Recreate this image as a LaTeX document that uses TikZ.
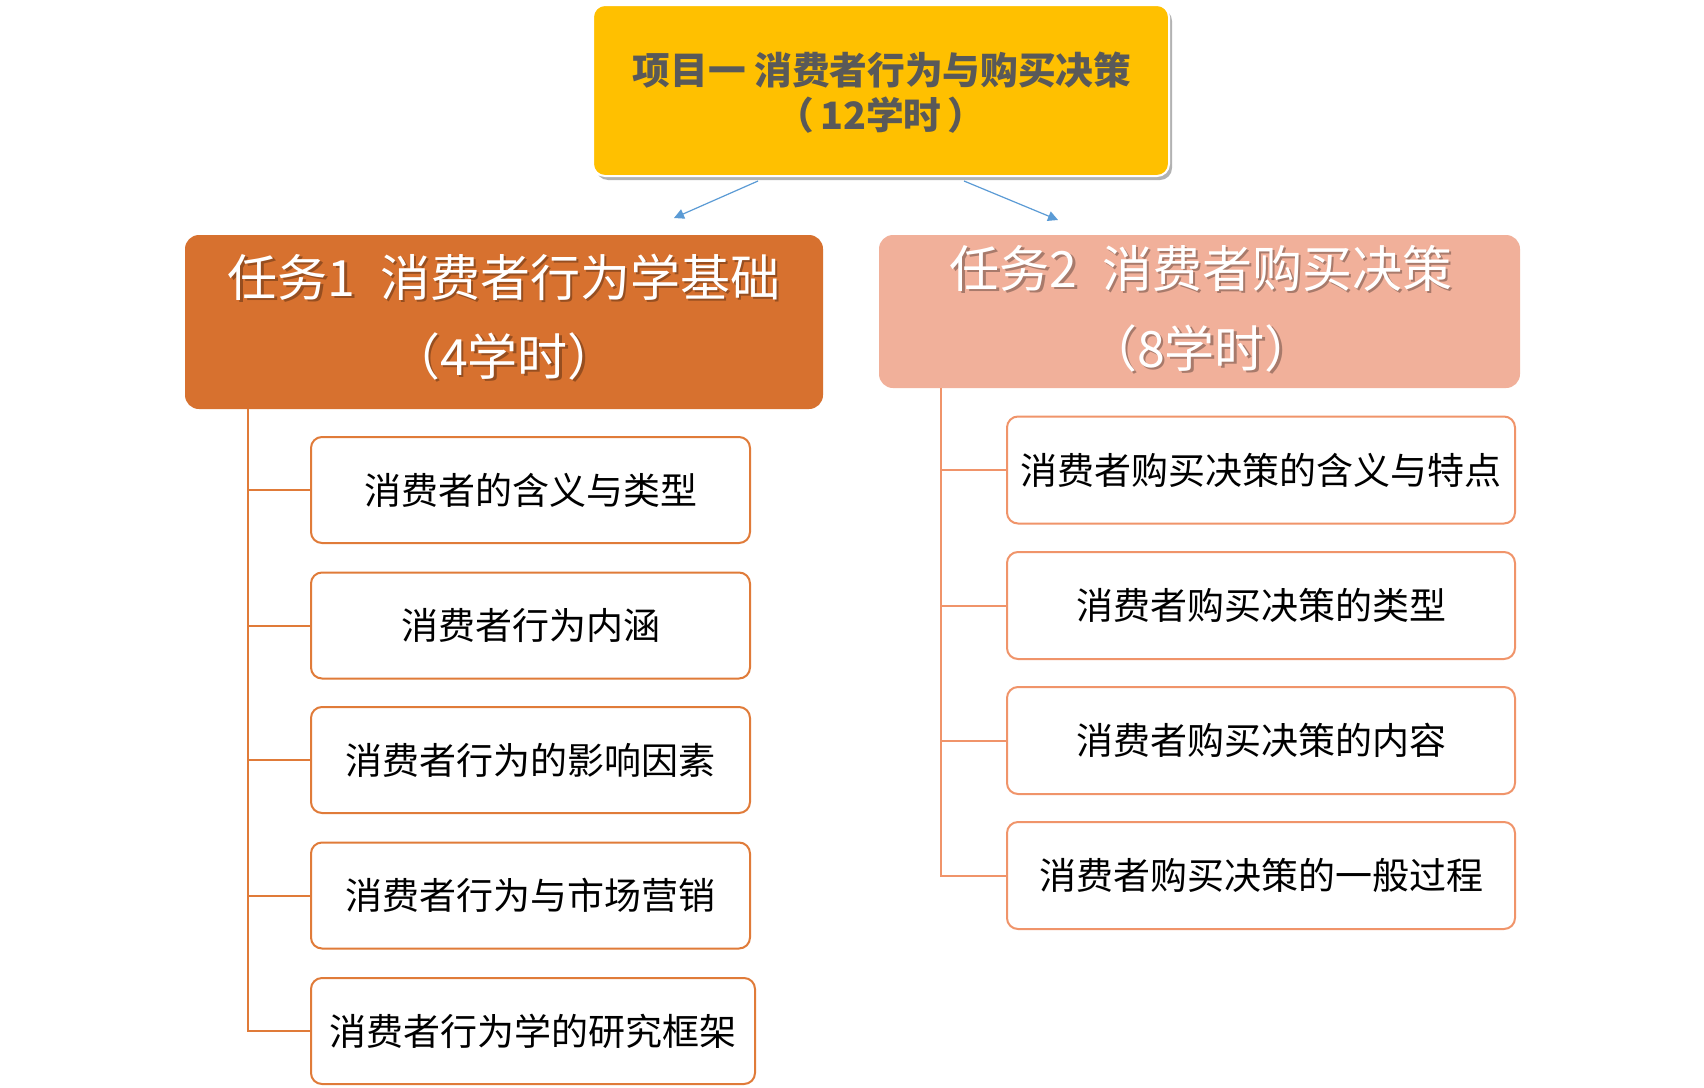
\documentclass[tikz,border=0pt]{standalone}
\usepackage{fontspec}
\newfontfamily\cjk{Noto Sans CJK SC}
\usetikzlibrary{arrows.meta,shadows}
\definecolor{topfill}{HTML}{FFC000}
\definecolor{toptext}{HTML}{595959}
\definecolor{taskA}{HTML}{D7712F}
\definecolor{taskB}{HTML}{F1B09A}
\definecolor{lineA}{HTML}{E07B39}
\definecolor{lineB}{HTML}{F0946A}
\definecolor{arrowblue}{HTML}{5B9BD5}
\tikzset{
 topbox/.style={fill=topfill, draw=white, line width=2pt, rounded corners=12pt, inner sep=0pt,
   drop shadow={shadow xshift=3pt, shadow yshift=-4pt, opacity=0.3, fill=black}},
 taskbox/.style={rounded corners=14pt, inner sep=0pt},
 leafA/.style={draw=lineA, line width=2pt, fill=white, rounded corners=11pt, inner sep=0pt,
   minimum height=106pt, text=black},
 leafB/.style={draw=lineB, line width=2pt, fill=white, rounded corners=11pt, inner sep=0pt,
   minimum height=107pt, minimum width=508pt, text=black},
 connA/.style={draw=lineA, line width=2pt},
 connB/.style={draw=lineB, line width=2pt},
 arr/.style={draw=arrowblue, line width=1.2pt, -{Triangle[length=10pt,width=10pt]}},
 toptxt/.style={font=\cjk\bfseries\fontsize{37.7}{44}\selectfont, text=toptext, inner sep=0pt},
 taskAtxt/.style={font=\cjk\fontsize{50}{60}\selectfont, inner sep=0pt},
 taskBtxt/.style={font=\cjk\fontsize{50}{60}\selectfont, inner sep=0pt},
 shd/.style={text=black, opacity=0.3},
 wht/.style={text=white},
 small/.style={font=\cjk\fontsize{37}{44}\selectfont}
}
\begin{document}
\begin{tikzpicture}[x=1pt,y=-1pt]
\useasboundingbox (0,0) rectangle (1704,1087);
\fill[white] (0,0) rectangle (1704,1087);

% top box
\node[topbox, minimum width=576pt, minimum height=171pt] (top) at (881,90.5) {};
\node[toptxt] (topA) at (882,70) {项目一 消费者行为与购买决策};
\node[toptxt] (topB) at (881,115) {（\hspace{0.15em}12学时\hspace{0.15em}）};

% arrows
\coordinate (s1) at (758,181);
\coordinate (e1) at (674,218);
\coordinate (s2) at (964,181);
\coordinate (e2) at (1058,220);
\draw[arr] (s1) -- (e1);
\draw[arr] (s2) -- (e2);

% task boxes
\node[taskbox, fill=taskA, minimum width=638pt, minimum height=174pt] (t1) at (504,322) {};
\node[taskAtxt, shd] (t1sA) at (506.5,279.5) {任务1\hspace{0.5em}消费者行为学基础};
\node[taskAtxt, wht] (t1A) at (504,277) {任务1\hspace{0.5em}消费者行为学基础};
\node[taskAtxt, shd] (t1sB) at (506.5,358.5) {（4学时）};
\node[taskAtxt, wht] (t1B) at (504,356) {（4学时）};

\node[taskbox, fill=taskB, minimum width=641pt, minimum height=153pt] (t2) at (1199.5,311.5) {};
\node[taskBtxt, shd] (t2sA) at (1203.5,270.5) {任务2\hspace{0.5em}消费者购买决策};
\node[taskBtxt, wht] (t2A) at (1201,268) {任务2\hspace{0.5em}消费者购买决策};
\node[taskBtxt, shd] (t2sB) at (1203.5,350.5) {（8学时）};
\node[taskBtxt, wht] (t2B) at (1201,348) {（8学时）};

% left leaves
\node[leafA, small, minimum width=439pt] (a1) at (530.5,490) {消费者的含义与类型};
\node[leafA, small, minimum width=439pt] (a2) at (530.5,625.5) {消费者行为内涵};
\node[leafA, small, minimum width=439pt] (a3) at (530.5,760) {消费者行为的影响因素};
\node[leafA, small, minimum width=439pt] (a4) at (530.5,895.5) {消费者行为与市场营销};
\node[leafA, small, minimum width=444pt] (a5) at (533,1031) {消费者行为学的研究框架};

\coordinate (la) at (248,409);
\foreach \n in {a1,a2,a3,a4,a5} \draw[connA] (la) |- (\n.west);

% right leaves
\node[leafB, small] (b1) at (1261,470) {消费者购买决策的含义与特点};
\node[leafB, small] (b2) at (1261,605.5) {消费者购买决策的类型};
\node[leafB, small] (b3) at (1261,740.5) {消费者购买决策的内容};
\node[leafB, small] (b4) at (1261,875.5) {消费者购买决策的一般过程};

\coordinate (lb) at (941,388);
\foreach \n in {b1,b2,b3,b4} \draw[connB] (lb) |- (\n.west);
\end{tikzpicture}
\end{document}
